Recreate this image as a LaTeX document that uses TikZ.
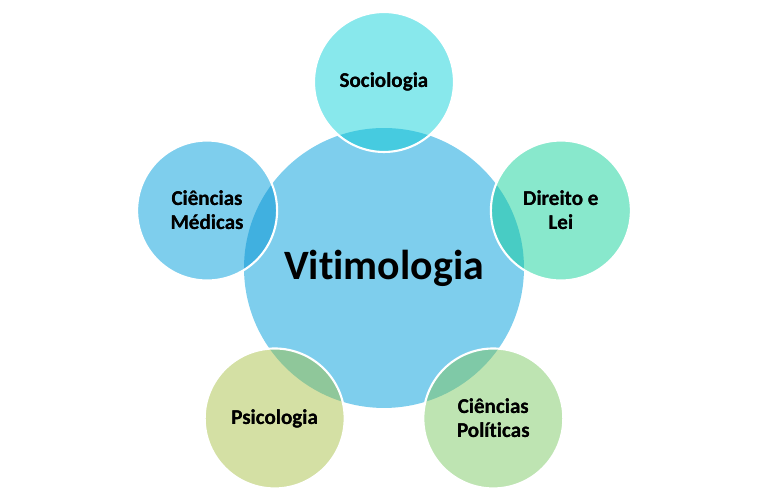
\documentclass[tikz,border=0pt]{standalone}
\usepackage{fontspec}
\setmainfont[Ligatures=NoCommon]{Carlito}
\usetikzlibrary{positioning}
\definecolor{hubblue}{RGB}{126,206,237}
\definecolor{socicyan}{RGB}{136,232,236}
\definecolor{socioverlap}{RGB}{70,203,224}
\definecolor{lawmint}{RGB}{136,232,204}
\definecolor{lawoverlap}{RGB}{72,204,196}
\definecolor{polgreen}{RGB}{190,228,178}
\definecolor{poloverlap}{RGB}{127,201,167}
\definecolor{psyolive}{RGB}{212,224,164}
\definecolor{psyoverlap}{RGB}{143,199,154}
\definecolor{medblue}{RGB}{126,206,237}
\definecolor{medoverlap}{RGB}{64,176,224}

\begin{document}
\begin{tikzpicture}[
    x=0.02cm, y=0.02cm,
    hub/.style={circle, fill=hubblue, minimum size=5.6cm, inner sep=0pt, font=\fontsize{23.8}{28}\selectfont\bfseries},
    satellite/.style={circle, minimum size=2.8cm, inner sep=0pt, align=center, font=\fontsize{12}{13.8}\selectfont\bfseries},
    rim/.style={draw=white, line width=1.2pt}
]
\useasboundingbox (-384,-234) rectangle (384,268);

% Hub
\node[hub] (vitimologia) at (0,0) {Vitimologia};

% Satellites
\node[satellite, fill=socicyan] (sociologia) at (90:186) {Sociologia};
\node[satellite, fill=lawmint] (direito) at (18:186) {Direito e\\Lei};
\node[satellite, fill=polgreen] (politicas) at (-54:186) {Ciências\\Políticas};
\node[satellite, fill=psyolive] (psicologia) at (-126:186) {Psicologia};
\node[satellite, fill=medblue] (medicas) at (162:186) {Ciências\\Médicas};

% Overlaps with the hub
\begin{scope}
\clip (vitimologia.center) circle (2.8cm);
\foreach \sat/\col in {sociologia/socioverlap, direito/lawoverlap, politicas/poloverlap, psicologia/psyoverlap, medicas/medoverlap}
    \fill[\col] (\sat.center) circle (1.4cm);
\end{scope}

% White rims
\foreach \sat in {sociologia, direito, politicas, psicologia, medicas}
    \draw[rim] (\sat.center) circle (1.4cm);

% Labels on top
\node[satellite] at (sociologia) {Sociologia};
\node[satellite] at (direito) {Direito e\\Lei};
\node[satellite] at (politicas) {Ciências\\Políticas};
\node[satellite] at (psicologia) {Psicologia};
\node[satellite] at (medicas) {Ciências\\Médicas};

\end{tikzpicture}
\end{document}
